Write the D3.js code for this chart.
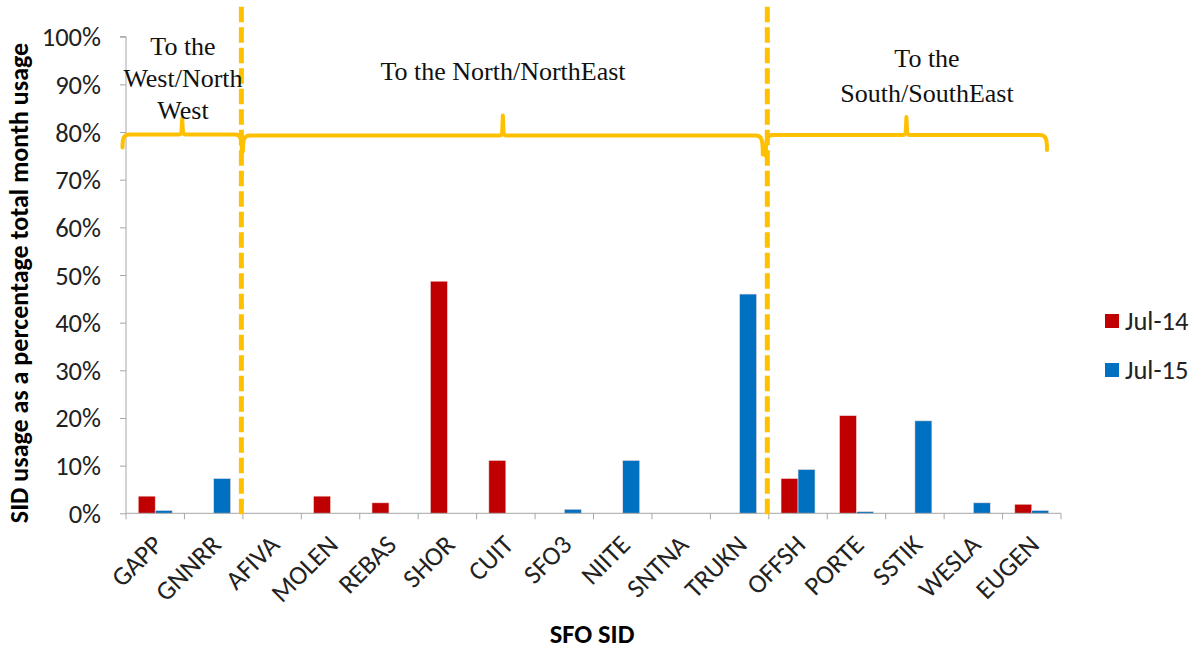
<!DOCTYPE html>
<html>
<head>
<meta charset="utf-8">
<script src="https://cdn.jsdelivr.net/npm/d3@7"></script>
<style>
  html, body { margin: 0; padding: 0; background: #fff; }
  svg { display: block; }
</style>
</head>
<body>
<svg id="chart" width="1204" height="651"></svg>
<script>
// ---- data ----
const categories = ["GAPP","GNNRR","AFIVA","MOLEN","REBAS","SHOR","CUIT","SFO3","NIITE","SNTNA","TRUKN","OFFSH","PORTE","SSTIK","WESLA","EUGEN"];
const seriesNames = ["Jul-14","Jul-15"];
const jul14 = [3.6, 0, 0, 3.6, 2.2, 48.7, 11.1, 0, 0, 0, 0, 7.3, 20.5, 0, 0, 1.9];
const jul15 = [0.6, 7.3, 0, 0, 0, 0, 0, 0.85, 11.1, 0, 46.0, 9.2, 0.35, 19.4, 2.2, 0.6];
const yTicks = [0,10,20,30,40,50,60,70,80,90,100];
const groups = [
  { label: ["To the", "West/North", "West"], from: "GAPP", to: "GNNRR" },
  { label: ["To the North/NorthEast"], from: "AFIVA", to: "TRUKN" },
  { label: ["To the", "South/SouthEast"], from: "OFFSH", to: "EUGEN" }
];
const colors = { "Jul-14": "#C00000", "Jul-15": "#0070C0" };

// ---- layout ----
const svg = d3.select("#chart");
const plot = { left: 126, right: 1061, top: 36.7, bottom: 513.3 };
const sansFont = "Carlito, 'Open Sans', Lato, sans-serif";
const serifFont = "'Liberation Serif', 'Times New Roman', serif";
const fs = 26.5;
const axisColor = "#a6a6a6";
const braceColor = "#FFC000";

const x0 = d3.scaleBand().domain(categories).range([plot.left, plot.right]).paddingInner(0).paddingOuter(0);
const x1 = d3.scaleBand().domain(seriesNames).range([0, x0.bandwidth()]).paddingInner(0).paddingOuter(0.72);
const y = d3.scaleLinear().domain([0, 100]).range([plot.bottom, plot.top]);

const data = categories.map((c, i) => ({ cat: c, values: [
  { s: "Jul-14", v: jul14[i] }, { s: "Jul-15", v: jul15[i] }
]}));

// ---- bars ----
const g = svg.append("g");
g.selectAll("g.cat").data(data).join("g")
  .attr("class", "cat")
  .attr("transform", d => `translate(${x0(d.cat)},0)`)
  .selectAll("rect").data(d => d.values.filter(v => v.v > 0)).join("rect")
  .attr("x", d => x1(d.s))
  .attr("width", x1.bandwidth())
  .attr("y", d => y(d.v))
  .attr("height", d => y(0) - y(d.v))
  .attr("fill", d => colors[d.s])
  .attr("stroke", "#f2dcdc")
  .attr("stroke-width", 0.6);

// ---- y axis ----
const yAxis = d3.axisLeft(y).tickValues(yTicks).tickSize(6).tickFormat(d => d + "%");
const ya = svg.append("g").attr("transform", `translate(${plot.left},0)`).call(yAxis);
ya.select(".domain").attr("stroke", axisColor).attr("d", `M-6,${y(100)}H0V${y(0)}`);
ya.selectAll(".tick line").attr("stroke", axisColor);
ya.selectAll(".tick text").attr("x", -25).attr("dy", "0.34em").attr("font-family", sansFont).attr("font-size", fs).attr("fill", "#222");

// ---- x axis ----
const xa = svg.append("g").attr("transform", `translate(0,${plot.bottom})`);
xa.append("line").attr("x1", plot.left).attr("x2", plot.right).attr("stroke", axisColor);
const boundaries = categories.map(c => x0(c)).concat([plot.right]);
xa.selectAll("line.tk").data(boundaries).join("line")
  .attr("class", "tk").attr("x1", d => d).attr("x2", d => d).attr("y1", 0).attr("y2", 6).attr("stroke", axisColor);
xa.selectAll("text").data(categories).join("text")
  .attr("transform", d => `translate(${x0(d) + x0.bandwidth() / 2 + 9},${33}) rotate(-45)`)
  .attr("text-anchor", "end")
  .attr("font-family", sansFont).attr("font-size", fs).attr("fill", "#222")
  .text(d => d);

// ---- axis titles ----
svg.append("text")
  .attr("transform", `translate(27.5,${(plot.top + plot.bottom) / 2 + 8}) rotate(-90)`)
  .attr("text-anchor", "middle").attr("font-family", sansFont).attr("font-weight", "bold").attr("font-size", 26)
  .text("SID usage as a percentage total month usage");
svg.append("text")
  .attr("x", 592).attr("y", 643)
  .attr("text-anchor", "middle").attr("font-family", sansFont).attr("font-weight", "bold").attr("font-size", fs)
  .text("SFO SID");

// ---- dashed dividers ----
const dividers = ["AFIVA", "OFFSH"];
svg.selectAll("line.div").data(dividers).join("line")
  .attr("class", "div")
  .attr("x1", d => x0(d) - 1.5).attr("x2", d => x0(d) - 1.5)
  .attr("y1", 6.7).attr("y2", plot.bottom + 1)
  .attr("stroke", braceColor).attr("stroke-width", 5).attr("stroke-dasharray", "15.5,5");

// ---- braces ----
function bracePath(xa, xb, xc, yy, dl, dr, sp) {
  return `M${xa},${yy + dl} C${xa},${yy + 4} ${xa + 1},${yy} ${xa + 7},${yy}` +
    ` L${xc - 3},${yy} Q${xc - 0.6},${yy} ${xc - 0.6},${yy - 5} L${xc},${yy - sp} L${xc + 0.6},${yy - 5} Q${xc + 0.6},${yy} ${xc + 3},${yy}` +
    ` L${xb - 7},${yy} C${xb - 1},${yy} ${xb},${yy + 4} ${xb},${yy + dr}`;
}
const braceSpecs = [
  { xa: x0("GAPP") - 3.5, xb: x0("AFIVA") - 1, yy: 134.5, dl: 13, dr: 18, sp: 16, lines: groups[0].label, tx: 183, ty: 55, lh: 32 },
  { xa: x0("AFIVA"), xb: x0("OFFSH") - 6, yy: 135.5, dl: 16, dr: 19, sp: 20, lines: groups[1].label, tx: 503, ty: 80, lh: 32 },
  { xa: x0("OFFSH") - 3, xb: x0("EUGEN") + x0.bandwidth() - 14, yy: 135, dl: 21, dr: 15, sp: 18, lines: groups[2].label, tx: 927, ty: 67, lh: 35 }
];
braceSpecs.forEach(b => {
  const xc = (b.xa + b.xb) / 2;
  svg.append("path").attr("d", bracePath(b.xa, b.xb, xc, b.yy, b.dl, b.dr, b.sp))
    .attr("fill", "none").attr("stroke", braceColor).attr("stroke-width", 4).attr("stroke-linejoin", "round").attr("stroke-linecap", "round");
  const t = svg.append("text").attr("text-anchor", "middle").attr("font-family", serifFont).attr("font-size", 26).attr("fill", "#111");
  b.lines.forEach((ln, i) => t.append("tspan").attr("x", b.tx).attr("y", b.ty + i * b.lh).text(ln));
});

// ---- legend ----
const lg = svg.append("g").attr("transform", "translate(1105,314)");
seriesNames.forEach((s, i) => {
  lg.append("rect").attr("x", 0).attr("y", i * 49).attr("width", 14).attr("height", 14).attr("fill", colors[s]);
  lg.append("text").attr("x", 20).attr("y", i * 49 + 16).attr("font-family", sansFont).attr("font-size", fs).attr("fill", "#222").text(s);
});
</script>
</body>
</html>
